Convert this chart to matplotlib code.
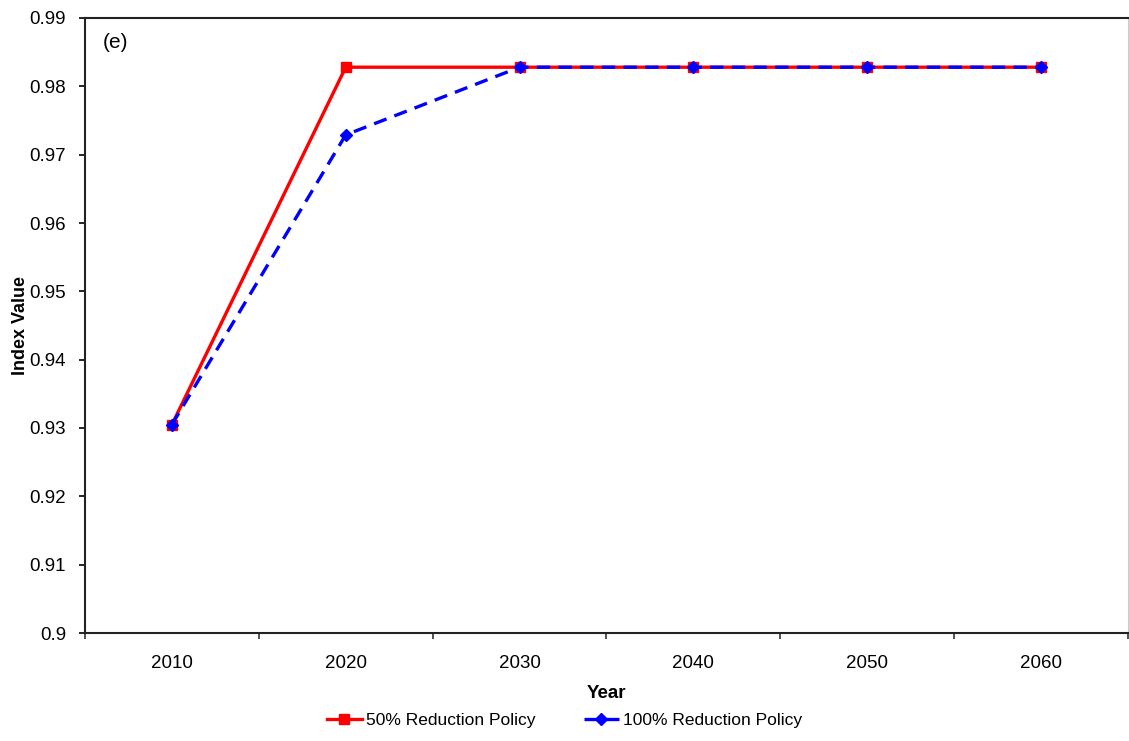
import matplotlib.pyplot as plt
import numpy as np

plt.rcParams['font.family'] = ['Liberation Sans', 'DejaVu Sans']

years = ['2010', '2020', '2030', '2040', '2050', '2060']
policy_50 = [0.9305, 0.9828, 0.9828, 0.9828, 0.9828, 0.9828]
policy_100 = [0.9305, 0.9729, 0.9828, 0.9828, 0.9828, 0.9828]

fig = plt.figure(figsize=(11.29, 7.41), dpi=100)
ax = fig.add_axes([85/1129, 108/741, 1043/1129, 615/741])

x = np.arange(len(years))
ax.plot(x, policy_50, '-s', color='#ff0000', lw=2.4, ms=7, label='50% Reduction Policy')
ax.plot(x, policy_100, '--D', color='#0000ff', lw=2.4, ms=6.5, dashes=(4, 2.5),
        label='100% Reduction Policy')

ax.set_xlim(-0.5, len(years) - 0.5)
ax.set_ylim(0.9, 0.99)
ax.set_yticks(np.arange(0.9, 0.9901, 0.01))
ax.set_yticklabels(['0.9', '0.91', '0.92', '0.93', '0.94', '0.95', '0.96', '0.97', '0.98', '0.99'])
ax.set_xticks(x)
ax.set_xticklabels(years)
ax.set_xticks(np.arange(-0.5, len(years), 1.0), minor=True)
ax.tick_params(axis='x', which='major', length=0, pad=16, labelsize=13.5)
ax.tick_params(axis='x', which='minor', length=4, width=1.2, color='#333333')
ax.tick_params(axis='y', length=4.5, width=1.2, labelsize=13.5, pad=9)

for s in ['left', 'bottom', 'top']:
    ax.spines[s].set_linewidth(1.5)
    ax.spines[s].set_color('#222222')
ax.spines['right'].set_color('#cccccc')

ax.text(0.017, 0.975, '(e)', transform=ax.transAxes, fontsize=15, va='top')
ax.set_xlabel('Year', fontsize=13.5, fontweight='bold')
ax.xaxis.set_label_coords(0.5, -0.085)
ax.set_ylabel('Index Value', fontsize=13, fontweight='bold')
ax.yaxis.set_label_coords(-0.054, 0.5)

fig.legend(loc='lower center', bbox_to_anchor=(0.5, -0.003), ncol=2, frameon=False,
           fontsize=12.5, handlelength=2.0, columnspacing=2.8, handletextpad=0.25)

fig.savefig('out.png', dpi=100)
